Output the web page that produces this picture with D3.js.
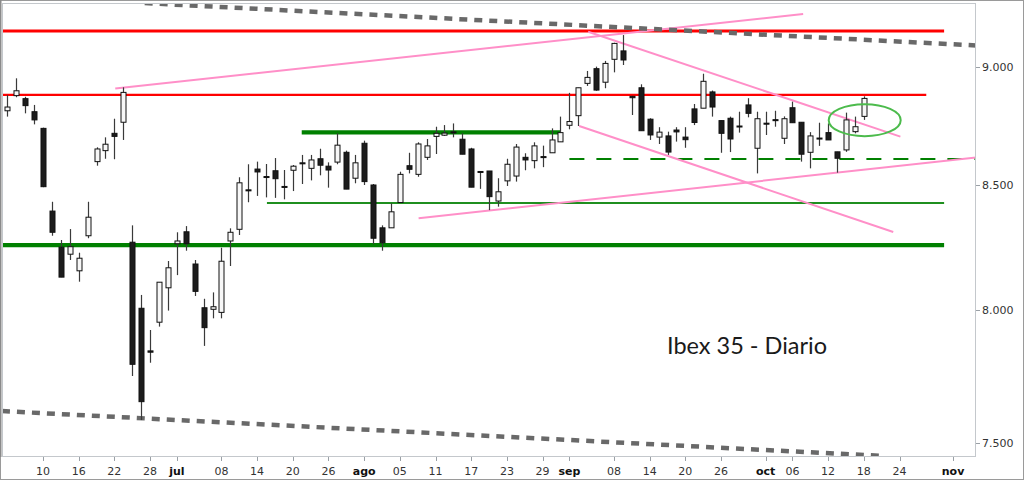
<!DOCTYPE html>
<html><head><meta charset="utf-8">
<script src="https://cdn.jsdelivr.net/npm/d3@7/dist/d3.min.js"></script>
<style>body{margin:0;background:#fff}svg{display:block}</style>
</head><body>
<svg id="c" width="1024" height="480"></svg>
<script>
// ---- data ----
const dates = ["06-06","06-07","06-08","06-09","06-10","06-13","06-14","06-15","06-16","06-17","06-20","06-21","06-22","06-23","06-24","06-27","06-28","06-29","06-30",
"07-01","07-04","07-05","07-06","07-07","07-08","07-11","07-12","07-13","07-14","07-15","07-18","07-19","07-20","07-21","07-22","07-25","07-26","07-27","07-28","07-29",
"08-01","08-02","08-03","08-04","08-05","08-08","08-09","08-10","08-11","08-12","08-15","08-16","08-17","08-18","08-19","08-22","08-23","08-24","08-25","08-26","08-29","08-30","08-31",
"09-01","09-02","09-05","09-06","09-07","09-08","09-09","09-12","09-13","09-14","09-15","09-16","09-19","09-20","09-21","09-22","09-23","09-26","09-27","09-28","09-29","09-30",
"10-03","10-04","10-05","10-06","10-07","10-10","10-11","10-12","10-13","10-14","10-17","10-18",
"10-19","10-20","10-21","10-24","10-25","10-26","10-27","10-28","10-31","11-01","11-02","11-03","11-04"];

const open  = [8812,8877,8864,8808,8737,8393,8247,8219,8153,8293,8597,8643,8716,8763,8267,8006,7842,7952,8086,
8261,8309,8180,8008,8002,7990,8272,8319,8480,8566,8535,8559,8494,8561,8592,8569,8609,8578,8595,8636,8528,
8674,8500,8325,8325,8428,8580,8544,8615,8703,8708,8722,8691,8650,8556,8558,8434,8517,8537,8615,8601,8618,8634,8680,
8750,8791,8930,8994,8935,9035,9072,8874,8911,8776,8700,8705,8730,8700,8820,8823,8893,8770,8780,8747,8837,8653,
8759,8774,8695,8825,8763,8636,8696,8719,8638,8646,8723,8788];
const high  = [8880,8952,8872,8837,8740,8431,8276,8320,8225,8431,8657,8699,8778,8913,8335,8058,7922,8108,8192,
8307,8332,8196,8043,8068,8245,8323,8532,8586,8597,8587,8612,8562,8583,8625,8625,8651,8594,8716,8643,8625,
8685,8504,8335,8425,8555,8634,8678,8692,8744,8751,8758,8716,8655,8558,8558,8528,8609,8671,8632,8678,8664,8737,8787,
8889,8911,8984,9003,9028,9108,9142,8876,8926,8780,8742,8723,8742,8742,8841,8972,8899,8770,8787,8808,8866,8808,
8808,8812,8788,8851,8763,8721,8761,8758,8638,8804,8787,8874];
const low   = [8787,8870,8801,8754,8491,8293,8128,8196,8110,8283,8580,8609,8607,8688,7747,7583,7797,7935,7997,
8136,8233,8054,7861,7967,7967,8172,8296,8429,8455,8449,8447,8441,8475,8504,8519,8540,8489,8586,8483,8507,
8500,8260,8233,8325,8428,8548,8534,8604,8629,8705,8699,8628,8491,8484,8397,8411,8496,8514,8561,8569,8574,8634,8680,
8733,8747,8919,8898,8909,8978,9010,8794,8727,8688,8671,8625,8681,8655,8751,8823,8787,8634,8637,8719,8784,8548,
8709,8744,8671,8761,8597,8569,8663,8688,8551,8638,8716,8773];
const close = [8828,8898,8834,8773,8493,8307,8128,8249,8203,8368,8650,8670,8703,8891,7791,7651,7837,8108,8165,
8272,8261,8072,7931,8012,8191,8307,8509,8477,8554,8533,8526,8492,8578,8590,8604,8582,8562,8666,8483,8592,
8514,8283,8265,8390,8544,8565,8671,8663,8716,8717,8720,8628,8491,8554,8452,8472,8586,8658,8604,8663,8616,8688,8719,
8766,8911,8956,8901,9017,9105,9032,8868,8727,8709,8721,8637,8722,8689,8762,8939,8828,8716,8692,8744,8801,8778,
8756,8772,8778,8761,8628,8705,8694,8688,8611,8773,8744,8865];

const tickDates  = ["06-10","06-16","06-22","06-28","07-01","07-08","07-14","07-20","07-26","08-01","08-05","08-11","08-17","08-23","08-29",
"09-01","09-08","09-14","09-20","09-26","10-03","10-06","10-12","10-18","10-24","11-01"];
const tickLabels = ["10","16","22","28","jul","08","14","20","26","ago","05","11","17","23","29",
"sep","08","14","20","26","oct","06","12","18","24","nov"];
const monthLabels = ["jul","ago","sep","oct","nov"];
const yTicks = [7500, 8000, 8500, 9000];

// horizontal levels: [value, fromIndex, toIndex, kind]
const levels = [
  [9160, -0.7, 105.0, "redThick"],
  [8880, -0.7, 103.0, "red"],
  [8255, -0.7, 105.0, "greenThick"],
  [8720, 33.0, 62.0, "greenThick"],
  [8426, 29.1, 105.0, "greenThin"],
  [8608, 63.0, 110.0, "greenDash"]
];
// trend lines: [index0, value0, index1, value1, kind]
const trends = [
  [12.1, 8908, 89.2, 9236, "pink"],
  [65.1, 9157, 100.1, 8702, "pink"],
  [64.1, 8747, 99.3, 8308, "pink"],
  [46.1, 8364, 108.6, 8614, "pink"],
  [15.4, 9285, 108.6, 9096, "grayDash"],
  [-0.6, 7616, 98.0, 7452, "grayDash"]
];
const circleMark = [96.1, 8772];
const title = "Ibex 35 - Diario";

// ---- styles ----
const styles = {
  redThick:   {stroke:"#ff0000", w:2.8},
  red:        {stroke:"#ff0000", w:2.2},
  greenThick: {stroke:"#008000", w:4.3},
  greenThin:  {stroke:"#1f8f1f", w:2},
  greenDash:  {stroke:"#008000", w:2, dash:"15,12"},
  pink:       {stroke:"#ff8fc8", w:2},
  grayDash:   {stroke:"#696969", w:4.5, dash:"8,7"}
};

const svg = d3.select("#c");
const L = 2, R = 976, T = 3, B = 457;

const x = d3.scaleLinear().domain([0, dates.length - 1]).range([7.3, 7.3 + 8.922 * (dates.length - 1)]);
const y = d3.scaleLog().domain([7500, 9000]).range([442.7, 67.3]);
const xi = d => x(dates.indexOf(d));

// outer frame
svg.append("rect").attr("x",0.5).attr("y",0.5).attr("width",1023).attr("height",479)
  .attr("fill","#fff").attr("stroke","#9a9a9a");

svg.append("defs").append("clipPath").attr("id","clip")
  .append("rect").attr("x",L).attr("y",T).attr("width",R-L).attr("height",B-T);

const plot = svg.append("g").attr("clip-path","url(#clip)");

// levels
plot.selectAll("line.lev").data(levels).join("line").attr("class","lev")
  .attr("x1", d => x(d[1])).attr("x2", d => x(d[2]))
  .attr("y1", d => y(d[0])).attr("y2", d => y(d[0]))
  .attr("stroke", d => styles[d[3]].stroke).attr("stroke-width", d => styles[d[3]].w)
  .attr("stroke-dasharray", d => styles[d[3]].dash || null);

// trends
plot.selectAll("line.tr").data(trends).join("line").attr("class","tr")
  .attr("x1", d => x(d[0])).attr("y1", d => y(d[1]))
  .attr("x2", d => x(d[2])).attr("y2", d => y(d[3]))
  .attr("stroke", d => styles[d[4]].stroke).attr("stroke-width", d => styles[d[4]].w)
  .attr("stroke-dasharray", d => styles[d[4]].dash || null);

// candles
const idx = d3.range(open.length);
plot.selectAll("line.wick").data(idx).join("line").attr("class","wick")
  .attr("x1", i => Math.round(x(i)) + 0.5).attr("x2", i => Math.round(x(i)) + 0.5)
  .attr("y1", i => y(high[i])).attr("y2", i => y(low[i]))
  .attr("stroke","#3a3a3a").attr("stroke-width",1.2);
plot.selectAll("rect.body").data(idx).join("rect").attr("class","body")
  .attr("x", i => Math.round(x(i)) - 2)
  .attr("width", 5)
  .attr("y", i => Math.min(y(open[i]), y(close[i])))
  .attr("height", i => Math.max(1, Math.abs(y(open[i]) - y(close[i]))))
  .attr("fill", i => close[i] >= open[i] ? "#f7f7f7" : "#1c1c1c")
  .attr("stroke","#111").attr("stroke-width",1);

// ellipse
plot.append("ellipse").attr("cx", x(circleMark[0])).attr("cy", y(circleMark[1]))
  .attr("rx",36).attr("ry",16).attr("fill","none").attr("stroke","#4cbb4c").attr("stroke-width",2);

// plot border
svg.append("rect").attr("x",L+0.5).attr("y",T+0.5).attr("width",R-L-1).attr("height",B-T-1)
  .attr("fill","none").attr("stroke","#c4c8cc");
svg.append("line").attr("x1",0.5).attr("x2",0.5).attr("y1",0).attr("y2",B).attr("stroke","#8a8a8a").attr("stroke-width",2);

// right axis
const ya = svg.append("g").attr("transform",`translate(${R},0)`);
ya.selectAll("line").data(yTicks).join("line")
  .attr("x1",0).attr("x2",4).attr("y1",d=>Math.round(y(d))+0.5).attr("y2",d=>Math.round(y(d))+0.5)
  .attr("stroke","#9aa0a6");
ya.selectAll("text").data(yTicks).join("text")
  .attr("x",6).attr("y",d=>y(d)).attr("dy","0.35em")
  .attr("font-family","DejaVu Sans, Verdana, sans-serif").attr("font-size",11).attr("fill","#333")
  .text(d => d3.format(",")(d).replace(",", "."));

// bottom axis
const xa = svg.append("g");
xa.selectAll("line").data(tickDates).join("line")
  .attr("x1", d => Math.round(xi(d)) + 0.5).attr("x2", d => Math.round(xi(d)) + 0.5)
  .attr("y1", B).attr("y2", B + 4).attr("stroke","#9aa0a6");
xa.selectAll("text").data(tickDates).join("text")
  .attr("x", d => xi(d)).attr("y", 475)
  .attr("text-anchor","middle")
  .attr("font-family","DejaVu Sans, Verdana, sans-serif").attr("font-size",11)
  .attr("font-weight", (d,i) => monthLabels.includes(tickLabels[i]) ? "bold" : "normal")
  .attr("fill", (d,i) => monthLabels.includes(tickLabels[i]) ? "#111" : "#333")
  .text((d,i) => tickLabels[i]);

// title
svg.append("text").attr("x",667).attr("y",354)
  .attr("font-family","Lato, 'Open Sans', sans-serif").attr("font-size",23.5).attr("fill","#1a1a1a")
  .text(title);
</script>
</body></html>
